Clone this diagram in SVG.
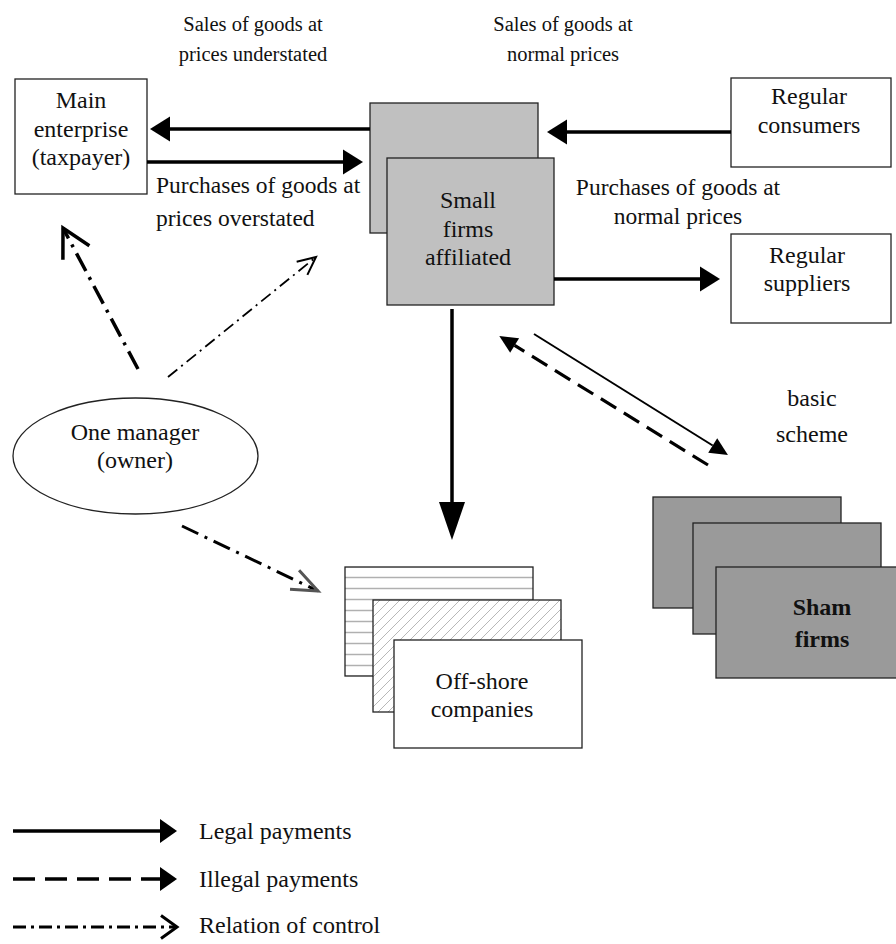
<svg xmlns="http://www.w3.org/2000/svg" width="896" height="944" viewBox="0 0 896 944">
<style>
text{font-family:"Liberation Serif","Times New Roman",serif;fill:#111;text-anchor:middle}
.t24{font-size:24px}
.t23{font-size:23.5px}
.t20{font-size:20.5px}
.box{fill:#fff;stroke:#222;stroke-width:1.3}
.grey{fill:#c0c0c0;stroke:#222;stroke-width:1.3}
.dark{fill:#9a9a9a;stroke:#222;stroke-width:1.3}
.legal{stroke:#000;stroke-width:3.5;fill:none}
.thin{stroke:#000;stroke-width:2;fill:none}
.illegal{stroke:#000;stroke-width:3.2;fill:none;stroke-dasharray:18 9}
.ctrl{stroke:#000;fill:none;stroke-dasharray:20 7 3 7}
</style>
<defs>
<marker id="hL" markerUnits="userSpaceOnUse" markerWidth="20" markerHeight="25" refX="0" refY="12.5" orient="auto" overflow="visible"><path d="M0,0 L20,12.5 L0,25 z" fill="#000"/></marker>
<marker id="hV" markerUnits="userSpaceOnUse" markerWidth="38" markerHeight="26" refX="0" refY="13" orient="auto" overflow="visible"><path d="M0,0 L38,13 L0,26 z" fill="#000"/></marker>
<marker id="hS" markerUnits="userSpaceOnUse" markerWidth="18" markerHeight="17" refX="0" refY="8.5" orient="auto" overflow="visible"><path d="M0,0 L18,8.5 L0,17 z" fill="#000"/></marker>
<marker id="hG" markerUnits="userSpaceOnUse" markerWidth="17" markerHeight="24" refX="0" refY="12" orient="auto" overflow="visible"><path d="M0,0 L17,12 L0,24 z" fill="#000"/></marker>
<marker id="o1" markerUnits="userSpaceOnUse" markerWidth="30" markerHeight="32" refX="28" refY="15" orient="auto" overflow="visible"><path d="M0,0 L28,15 L0,30" fill="none" stroke="#000" stroke-width="3.5"/></marker>
<marker id="o2" markerUnits="userSpaceOnUse" markerWidth="20" markerHeight="18" refX="18" refY="8.5" orient="auto" overflow="visible"><path d="M0,0 L18,8.5 L0,17" fill="none" stroke="#000" stroke-width="2"/></marker>
<marker id="o3" markerUnits="userSpaceOnUse" markerWidth="28" markerHeight="22" refX="26" refY="10.5" orient="auto" overflow="visible"><path d="M0,0 L26,10.5 L0,21" fill="none" stroke="#555" stroke-width="3"/></marker>
<marker id="o4" markerUnits="userSpaceOnUse" markerWidth="18" markerHeight="24" refX="16" refY="11.5" orient="auto" overflow="visible"><path d="M0,0 L16,11.5 L0,23" fill="none" stroke="#000" stroke-width="3"/></marker>
<pattern id="hz" patternUnits="userSpaceOnUse" width="10" height="11"><line x1="0" y1="5.5" x2="10" y2="5.5" stroke="#b0b0b0" stroke-width="1.5"/></pattern>
<pattern id="dg" patternUnits="userSpaceOnUse" width="10" height="10"><path d="M0,10 L10,0 M-2,2 L2,-2 M8,12 L12,8" stroke="#b8b8b8" stroke-width="1"/></pattern>
</defs>

<g id="label-sales-understated"><text class="t20" x="253" y="31">Sales of goods at</text><text class="t20" x="253" y="61">prices understated</text></g>
<g id="label-sales-normal"><text class="t20" x="563" y="31">Sales of goods at</text><text class="t20" x="563" y="61">normal prices</text></g>
<g id="label-purchases-overstated"><text class="t23" x="156" y="193" style="text-anchor:start">Purchases of goods at</text><text class="t23" x="156" y="226" style="text-anchor:start">prices overstated</text></g>
<g id="label-purchases-normal"><text class="t23" x="678" y="195">Purchases of goods at</text><text class="t23" x="678" y="224">normal prices</text></g>
<g id="label-basic"><text class="t24" x="812" y="406">basic</text><text class="t24" x="812" y="442">scheme</text></g>

<g id="main-enterprise"><rect class="box" x="15" y="79" width="132" height="115"/><text class="t24" x="81" y="108">Main</text><text class="t24" x="81" y="137">enterprise</text><text class="t24" x="81" y="165">(taxpayer)</text></g>
<g id="regular-consumers"><rect class="box" x="731" y="78" width="160" height="89"/><text class="t24" x="809" y="104">Regular</text><text class="t24" x="809" y="133">consumers</text></g>
<g id="regular-suppliers"><rect class="box" x="731" y="234" width="160" height="89"/><text class="t24" x="807" y="263">Regular</text><text class="t24" x="807" y="291">suppliers</text></g>
<g id="small-firms"><rect class="grey" x="370" y="103" width="168" height="130"/><rect class="grey" x="387" y="158" width="167" height="147"/><text class="t24" x="468" y="208">Small</text><text class="t24" x="468" y="237">firms</text><text class="t24" x="468" y="265">affiliated</text></g>
<g id="one-manager"><ellipse cx="135.5" cy="456" rx="122.5" ry="58" fill="#fff" stroke="#222" stroke-width="1.3"/><text class="t24" x="135" y="440">One manager</text><text class="t24" x="135" y="468">(owner)</text></g>
<g id="offshore"><rect x="345" y="567" width="188" height="109" fill="url(#hz)" stroke="#222" stroke-width="1.3"/><rect x="373" y="600" width="188" height="112" fill="#fff" stroke="none"/><rect x="373" y="600" width="188" height="112" fill="url(#dg)" stroke="#222" stroke-width="1.3"/><rect class="box" x="394" y="640" width="188" height="108"/><text class="t24" x="482" y="689">Off-shore</text><text class="t24" x="482" y="717">companies</text></g>
<g id="sham-firms"><rect class="dark" x="653" y="497" width="188" height="111"/><rect class="dark" x="693" y="523" width="188" height="111"/><rect class="dark" x="716" y="567" width="188" height="111"/><text class="t24" x="822" y="615" font-weight="bold">Sham</text><text class="t24" x="822" y="647" font-weight="bold">firms</text></g>

<g id="connectors">
<line class="legal" x1="370" y1="129" x2="170" y2="129" marker-end="url(#hL)"/>
<line class="legal" x1="147" y1="162" x2="343" y2="162" marker-end="url(#hL)"/>
<line class="legal" x1="731" y1="132" x2="567" y2="132" marker-end="url(#hL)"/>
<line class="legal" x1="554" y1="279" x2="700" y2="279" marker-end="url(#hL)"/>
<line class="legal" x1="452" y1="309" x2="452" y2="502" marker-end="url(#hV)"/>
<line class="thin" x1="534" y1="334" x2="712.7" y2="445.5" marker-end="url(#hS)"/>
<line class="illegal" x1="708" y1="465" x2="514.6" y2="345.4" marker-end="url(#hS)"/>
<line class="ctrl" stroke-width="3.5" x1="138" y1="369" x2="63" y2="228" marker-end="url(#o1)"/>
<line class="ctrl" stroke-width="1.8" style="stroke-dasharray:12 5 2 5" x1="168" y1="377" x2="316" y2="257" marker-end="url(#o2)"/>
<line class="ctrl" stroke-width="3" style="stroke-dasharray:18 7 3 7" x1="182" y1="526" x2="318" y2="591" marker-end="url(#o3)"/>
</g>

<g id="legend">
<line class="legal" x1="13" y1="831" x2="160" y2="831" marker-end="url(#hG)"/>
<line class="illegal" style="stroke-dasharray:22 10;stroke-width:3.5" x1="13" y1="879" x2="160" y2="879" marker-end="url(#hG)"/>
<line class="ctrl" stroke-width="3" style="stroke-dasharray:13 5 3 5" x1="13" y1="927" x2="177" y2="927" marker-end="url(#o4)"/>
<text class="t24" x="199" y="839" style="text-anchor:start">Legal payments</text>
<text class="t24" x="199" y="887" style="text-anchor:start">Illegal payments</text>
<text class="t24" x="199" y="933" style="text-anchor:start">Relation of control</text>
</g>
</svg>
